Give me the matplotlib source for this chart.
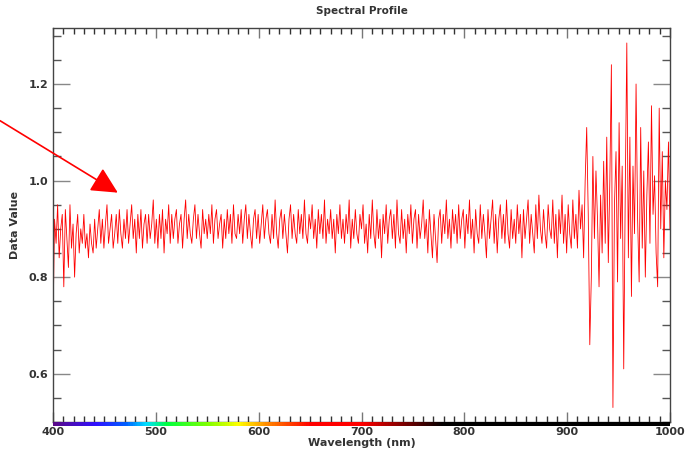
import numpy as np
import matplotlib
matplotlib.use("Agg")
import matplotlib.pyplot as plt
from matplotlib.colors import LinearSegmentedColormap
from matplotlib.ticker import MultipleLocator

wavelength_start = 400.0
wavelength_step = 1.5
values = [
    0.70, 0.92, 0.87, 0.95, 0.84, 0.90, 0.93, 0.78, 0.94, 0.88,
    0.82, 0.95, 0.86, 0.91, 0.80, 0.89, 0.93, 0.85, 0.90, 0.87,
    0.93, 0.86, 0.89, 0.84, 0.91, 0.87, 0.85, 0.92, 0.86, 0.90,
    0.94, 0.87, 0.92, 0.86, 0.91, 0.95, 0.87, 0.90, 0.93, 0.86,
    0.89, 0.93, 0.87, 0.94, 0.89, 0.86, 0.92, 0.88, 0.94, 0.87,
    0.91, 0.95, 0.88, 0.92, 0.85, 0.93, 0.88, 0.94, 0.86, 0.91,
    0.93, 0.87, 0.93, 0.88, 0.91, 0.96, 0.87, 0.92, 0.86, 0.93,
    0.88, 0.94, 0.85, 0.92, 0.89, 0.95, 0.87, 0.93, 0.88, 0.92,
    0.94, 0.87, 0.91, 0.93, 0.86, 0.92, 0.96, 0.88, 0.93, 0.89,
    0.87, 0.92, 0.95, 0.88, 0.93, 0.89, 0.86, 0.94, 0.89, 0.92,
    0.88, 0.93, 0.89, 0.95, 0.87, 0.92, 0.94, 0.88, 0.91, 0.93,
    0.86, 0.92, 0.88, 0.94, 0.89, 0.93, 0.87, 0.95, 0.89, 0.88,
    0.93, 0.89, 0.94, 0.87, 0.92, 0.95, 0.88, 0.93, 0.89, 0.86,
    0.92, 0.94, 0.88, 0.93, 0.87, 0.91, 0.95, 0.88, 0.92, 0.94,
    0.89, 0.87, 0.93, 0.88, 0.96, 0.89, 0.86, 0.92, 0.94, 0.88,
    0.93, 0.89, 0.85, 0.92, 0.95, 0.88, 0.93, 0.89, 0.87, 0.94,
    0.89, 0.93, 0.88, 0.96, 0.89, 0.87, 0.93, 0.90, 0.95, 0.88,
    0.92, 0.86, 0.94, 0.89, 0.93, 0.88, 0.96, 0.87, 0.92, 0.89,
    0.94, 0.88, 0.92, 0.85, 0.93, 0.89, 0.95, 0.88, 0.92, 0.87,
    0.93, 0.89, 0.96, 0.86, 0.92, 0.88, 0.94, 0.89, 0.87, 0.93,
    0.90, 0.95, 0.87, 0.91, 0.85, 0.93, 0.88, 0.96, 0.89, 0.86,
    0.94, 0.88, 0.92, 0.84, 0.93, 0.89, 0.95, 0.87, 0.92, 0.94,
    0.88, 0.93, 0.86, 0.96, 0.89, 0.87, 0.94, 0.88, 0.92, 0.85,
    0.93, 0.89, 0.95, 0.87, 0.92, 0.94, 0.86, 0.93, 0.88, 0.91,
    0.96, 0.88, 0.92, 0.85, 0.94, 0.89, 0.84, 0.93, 0.88, 0.83,
    0.92, 0.94, 0.87, 0.93, 0.89, 0.96, 0.88, 0.92, 0.86, 0.94,
    0.89, 0.93, 0.87, 0.95, 0.88, 0.92, 0.94, 0.86, 0.93, 0.89,
    0.96, 0.88, 0.92, 0.85, 0.94, 0.89, 0.87, 0.95, 0.88, 0.93,
    0.89, 0.84, 0.94, 0.88, 0.92, 0.96, 0.87, 0.93, 0.85, 0.92,
    0.95, 0.88, 0.93, 0.87, 0.96, 0.89, 0.86, 0.94, 0.88, 0.92,
    0.87, 0.95, 0.89, 0.93, 0.84, 0.94, 0.88, 0.92, 0.96, 0.87,
    0.93, 0.89, 0.85, 0.95, 0.88, 0.97, 0.90, 0.87, 0.94, 0.89,
    0.86, 0.95, 0.90, 0.88, 0.96, 0.87, 0.93, 0.84, 0.94, 0.89,
    0.97, 0.87, 0.93, 0.85, 0.95, 0.89, 0.86, 0.96, 0.88, 0.93,
    0.86, 0.98, 0.90, 0.95, 0.84, 1.00, 1.11, 0.93, 0.66, 0.80,
    1.05, 0.88, 1.02, 0.92, 0.78, 0.97, 0.85, 1.04, 0.87, 1.09,
    0.83, 1.00, 1.24, 0.53, 0.95, 1.06, 0.79, 1.12, 0.88, 1.03,
    0.61, 0.98, 1.285, 0.84, 1.09, 0.76, 1.03, 0.89, 1.20, 0.92,
    0.79, 1.11, 0.86, 1.02, 0.80, 0.97, 1.08, 0.87, 1.155, 0.93,
    1.01, 0.85, 0.78, 1.15, 0.90, 1.06, 0.84, 1.00, 0.94, 1.08,
    0.90,
]
wavelengths = wavelength_start + wavelength_step * np.arange(len(values))

x_ticks = [400, 500, 600, 700, 800, 900, 1000]
y_ticks = [0.6, 0.8, 1.0, 1.2]

# spectrum colour bar stops (nm, colour)
spec_nm = [400, 440, 470, 490, 510, 550, 580, 610, 650, 700, 780, 1000]
spec_col = ['#5a0a8a', '#3010ff', '#0060ff', '#00e0ff', '#00ff40', '#80ff00',
            '#ffff00', '#ff8000', '#ff0000', '#ff0000', '#000000', '#000000']

fig = plt.figure(figsize=(6.91, 4.54), dpi=100)
ax = fig.add_axes([53/691, 1-422/454, (670-53)/691, (422-28)/454])

ax.plot(wavelengths, values, color='#ff0000', lw=0.6)

ax.set_xlim(400, 1000)
ax.set_ylim(0.5, 1.316)
ax.set_xticks(x_ticks)
ax.set_yticks(y_ticks)
ax.set_yticklabels([f"{v:.1f}" for v in y_ticks])
ax.xaxis.set_minor_locator(MultipleLocator(10))
ax.yaxis.set_minor_locator(MultipleLocator(0.05))

lab_col = '#333333'
ax.tick_params(axis='both', which='both', direction='in', top=True, right=True,
               labelsize=8, labelcolor=lab_col)
ax.tick_params(axis='y', which='major', length=12, color='#888888', width=1)
ax.tick_params(axis='y', which='minor', length=6, color='#555555', width=1)
ax.tick_params(axis='x', which='major', length=7, color='#777777', width=1)
ax.tick_params(axis='x', which='minor', length=4, color='#333333', width=1)
for lbl in ax.get_xticklabels() + ax.get_yticklabels():
    lbl.set_fontweight('bold')
for s in ax.spines.values():
    s.set_color('#444444')
    s.set_linewidth(1)

ax.set_title('Spectral Profile', fontsize=7.5, color=lab_col, fontweight='bold', pad=10)
ax.set_xlabel('Wavelength (nm)', fontsize=8, color=lab_col, fontweight='bold', labelpad=1)
ax.set_ylabel('Data Value', fontsize=8, color=lab_col, fontweight='bold')
ax.yaxis.set_label_coords(-0.0535, 0.5)

# spectrum bar along bottom
cmap = LinearSegmentedColormap.from_list(
    'spec', [((n - 400) / 600, c) for n, c in zip(spec_nm, spec_col)])
grad = np.linspace(0, 1, 600).reshape(1, -1)
ax.imshow(grad, cmap=cmap, aspect='auto', extent=(400, 1000, -0.009, 0.0),
          transform=ax.get_xaxis_transform(), clip_on=False, zorder=5)
ax.set_xlim(400, 1000)
ax.set_ylim(0.5, 1.316)

# arrow annotation
ax.annotate('', xy=(463, 0.975), xytext=(348.5, 1.124), annotation_clip=False,
            arrowprops=dict(arrowstyle='-|>,head_length=0.9,head_width=0.45',
                            color='#ff0000', lw=1.2, mutation_scale=18,
                            shrinkA=0, shrinkB=0))

fig.savefig('out.png', dpi=100)
